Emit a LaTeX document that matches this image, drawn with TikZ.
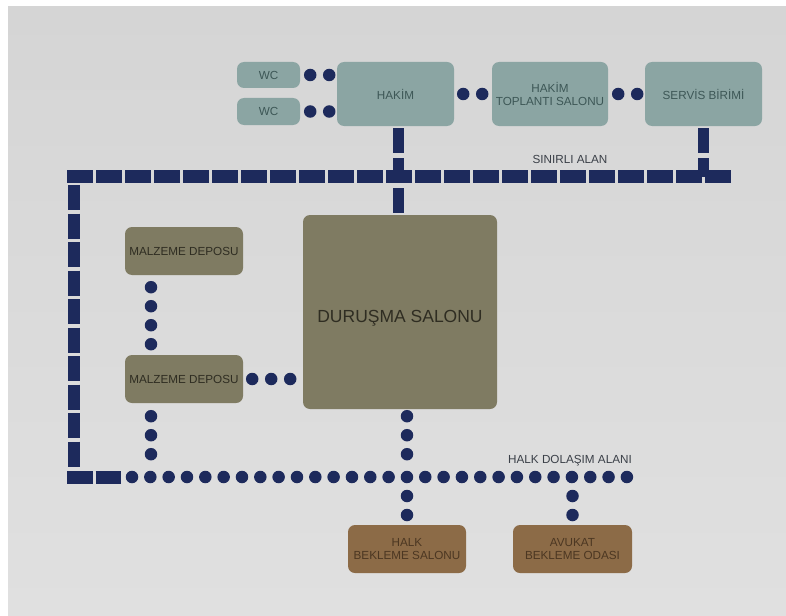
\documentclass[tikz,border=0pt]{standalone}
\usepackage{fontspec}
\setmainfont{Liberation Sans}
\usetikzlibrary{positioning}
\definecolor{navy}{HTML}{1D2A5C}
\definecolor{tealbox}{HTML}{8BA5A3}
\definecolor{tealtext}{HTML}{3D5756}
\definecolor{olivebox}{HTML}{7F7B62}
\definecolor{olivetext}{HTML}{2F2D22}
\definecolor{brownbox}{HTML}{8C6B47}
\definecolor{browntext}{HTML}{4C3722}
\definecolor{bgtop}{HTML}{D5D5D5}
\definecolor{bgmid}{HTML}{E2E3E3}
\definecolor{bgbottom}{HTML}{E0E0E0}
\definecolor{labeltext}{HTML}{3B4048}
\begin{document}
\begin{tikzpicture}[x=1pt, y=-1pt,
                room/.style={rounded corners=7pt, inner sep=0pt, align=center, font=\fontsize{11.7}{13}\selectfont},
                upper/.style={room, fill=tealbox, text=tealtext, minimum height=64pt},
                store/.style={room, fill=olivebox, text=olivetext, minimum width=118pt, minimum height=48pt},
                wait/.style={room, fill=brownbox, text=browntext, minimum width=118pt, minimum height=48pt},
                areaname/.style={text=labeltext, font=\fontsize{11.7}{13}\selectfont},
                dotrow/.style={draw=navy, line width=12.5pt, line cap=round, dash pattern=on 0pt off 19pt},
                walkway/.style={draw=navy, line width=12.5pt, line cap=round, dash pattern=on 0pt off 18.33pt},
                wall/.style={draw=navy, line width=13pt, dash pattern=on 26pt off 3pt},
                stub/.style={draw=navy, line width=11pt, dash pattern=on 25pt off 5pt}]
                \useasboundingbox (0,0) rectangle (786,615);
                \shade[top color=bgtop, middle color=bgmid, bottom color=bgbottom] (8,7) rectangle (786,615);

                \node[upper, minimum width=63pt, minimum height=26pt] (wcA) at (268.5,75) {WC};
                \node[upper, minimum width=63pt, minimum height=27pt] (wcB) at (268.5,111.5) {WC};
                \node[upper, minimum width=117pt] (hakim) at (395.5,94) {HAKİM};
                \node[upper, minimum width=116pt] (toplanti) at (550,94) {HAKİM\\TOPLANTI SALONU};
                \node[upper, minimum width=117pt] (servis) at (703.5,94) {SERVİS BİRİMİ};
                \node[store] (depoA) at (184,251) {MALZEME DEPOSU};
                \node[store] (depoB) at (184,379) {MALZEME DEPOSU};
                \node[room, fill=olivebox, minimum width=194pt, minimum height=194pt,
                    label={[font=\fontsize{17.5}{20}\selectfont, text=olivetext, yshift=-6pt]center:DURUŞMA SALONU}] (durusma) at (400,312) {};
                \node[wait] (halk) at (407,549) {HALK\\BEKLEME SALONU};
                \node[wait, minimum width=119pt] (avukat) at (572.5,549) {AVUKAT\\BEKLEME ODASI};
                \node[areaname] (sinirli) at (570,159) {SINIRLI ALAN};
                \node[areaname] (dolasim) at (570,461) {HALK DOLAŞIM ALANI};

                \coordinate (sinW) at (67,176.5);
                \coordinate (sinE) at (732,176.5);
                \coordinate (halkW) at (132,477);
                \coordinate (halkE) at (628,477);
                \coordinate (jHalk) at (halk.north |- halkW);
                \coordinate (jAvukat) at (avukat.north |- halkW);
                \coordinate (hakimFoot) at ([xshift=3pt]hakim.south);
                \coordinate (depoLine) at ([xshift=-33pt]depoA.south);
                \coordinate (depoFoot) at (depoLine |- depoB.south);
                \coordinate (durusmaFoot) at (durusma.south -| halk.north);

                \draw[wall] (sinW) -- (sinE);
                \draw[wall, line width=12pt, dash pattern=on 25pt off 3.5pt] (74,185) -- (74,467);
                \draw[wall, dash pattern=on 25.5pt off 3pt] (67,477) -- (122,477);
                \draw[stub] ([yshift=-2pt]hakimFoot) -- (hakimFoot |- durusma.north);
                \draw[stub] ([yshift=-2pt]servis.south) -- (servis.south |- sinE);

                \draw[dotrow] ([xshift=10pt]wcA.east) -- (wcA.east -| hakim.west);
                \draw[dotrow] ([xshift=10pt]wcB.east) -- (wcB.east -| hakim.west);
                \draw[dotrow] ([xshift=9pt]hakim.east) -- (toplanti.west);
                \draw[dotrow] ([xshift=10pt]toplanti.east) -- (servis.west);
                \draw[dotrow] ([yshift=-12pt]depoLine) -- (depoLine |- depoB.north);
                \draw[dotrow] ([xshift=9pt]depoB.east) -- (depoB.east -| durusma.west);
                \draw[dotrow] ([yshift=-13pt]depoFoot) -- ++(0,50);
                \draw[dotrow] ([yshift=-7pt]durusmaFoot) -- ++(0,50);
                \draw[dotrow] ([yshift=-19pt]jHalk) -- (halk.north);
                \draw[dotrow] ([yshift=-19pt]jAvukat) -- (avukat.north);
                \draw[walkway] (halkW) -- (halkE);
            \end{tikzpicture}
\end{document}
